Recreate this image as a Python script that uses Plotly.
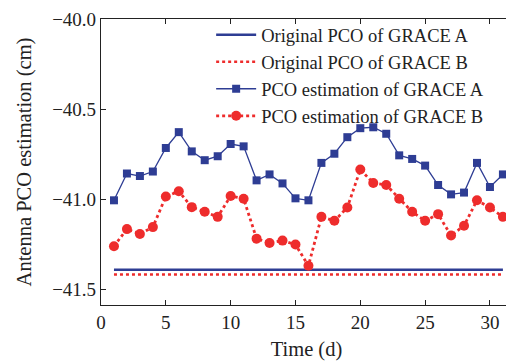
import plotly.graph_objects as go

days = list(range(1, 32))
est_a = [-41.006, -40.857, -40.871, -40.846, -40.715, -40.627, -40.734, -40.783, -40.761, -40.693,
         -40.706, -40.895, -40.862, -40.912, -40.995, -41.006, -40.798, -40.747, -40.655, -40.605,
         -40.600, -40.636, -40.756, -40.776, -40.813, -40.921, -40.973, -40.963, -40.798, -40.932,
         -40.862]
est_b = [-41.261, -41.166, -41.193, -41.155, -40.985, -40.956, -41.044, -41.070, -41.098, -40.982,
         -40.997, -41.219, -41.243, -41.230, -41.252, -41.370, -41.098, -41.120, -41.046, -40.835,
         -40.910, -40.921, -40.997, -41.070, -41.120, -41.083, -41.202, -41.147, -41.006, -41.046,
         -41.098]
orig_a = -41.392
orig_b = -41.418

BLUE = "#2E3D94"
RED = "#EE2C2C"
FONT = "Liberation Serif"

fig = go.Figure()
fig.add_trace(go.Scatter(x=days, y=[orig_a] * len(days), mode="lines",
                         line=dict(color=BLUE, width=2.5), name="Original PCO of GRACE A"))
fig.add_trace(go.Scatter(x=days, y=[orig_b] * len(days), mode="lines",
                         line=dict(color=RED, width=2.5, dash="dot"), name="Original PCO of GRACE B"))
fig.add_trace(go.Scatter(x=days, y=est_a, mode="lines+markers",
                         line=dict(color=BLUE, width=1.3),
                         marker=dict(symbol="square", size=8, color=BLUE),
                         name="PCO estimation of GRACE A"))
fig.add_trace(go.Scatter(x=days, y=est_b, mode="lines+markers",
                         line=dict(color=RED, width=2.8, dash="dot"),
                         marker=dict(symbol="circle", size=10, color=RED),
                         name="PCO estimation of GRACE B"))

fig.update_layout(
    width=506, height=353,
    margin=dict(l=93, r=1, t=9, b=56),
    paper_bgcolor="white", plot_bgcolor="white",
    font=dict(family=FONT, size=19, color="#222"),
    showlegend=True,
    legend=dict(x=0.268, y=1.01, xanchor="left", yanchor="top",
                bgcolor="rgba(0,0,0,0)", font=dict(size=18.5, family=FONT),
                tracegroupgap=0, itemwidth=40),
    xaxis=dict(range=[0, 31.7], tickvals=[0, 5, 10, 15, 20, 25, 30],
               showgrid=False, zeroline=False, showline=True, linecolor="#222", linewidth=1.2,
               mirror="ticks", ticks="inside", ticklen=5, tickcolor="#222",
               ticklabeloverflow="allow",
               title=dict(text="Time (d)", font=dict(size=20.5, family=FONT), standoff=9),
               tickfont=dict(size=19, family=FONT)),
    yaxis=dict(range=[-41.588, -39.998], tickvals=[-41.5, -41.0, -40.5, -40.0], tickformat=".1f",
               showgrid=False, zeroline=False, showline=True, linecolor="#222", linewidth=1.2,
               mirror="ticks", ticks="inside", ticklen=5, tickcolor="#222",
               ticklabeloverflow="allow",
               title=dict(text="Antenna PCO estimation (cm)", font=dict(size=20.5, family=FONT), standoff=14),
               tickfont=dict(size=19, family=FONT)),
)

fig.write_html("out.html")
